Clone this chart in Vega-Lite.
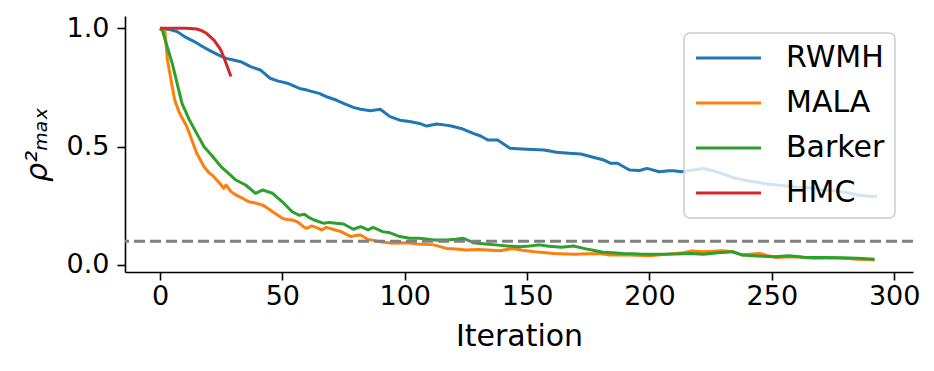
{
  "$schema": "https://vega.github.io/schema/vega-lite/v6.json",
  "width": 788,
  "height": 256,
  "autosize": {"type": "none"},
  "padding": {"left": 125, "top": 16, "right": 21, "bottom": 99},
  "background": "white",
  "config": {
    "view": {"stroke": null},
    "font": "DejaVu Sans",
    "axis": {
      "grid": false,
      "domainColor": "black",
      "domainWidth": 1.6,
      "tickColor": "black",
      "tickWidth": 1.6,
      "tickSize": 8,
      "labelFont": "DejaVu Sans",
      "labelFontSize": 27,
      "labelColor": "black",
      "titleFont": "DejaVu Sans",
      "titleFontSize": 30,
      "titleFontWeight": "normal",
      "titleColor": "black"
    }
  },
  "datasets": {
    "curves": [
      {"m":"RWMH","x":0,"y":1.0},{"m":"RWMH","x":4,"y":0.995},{"m":"RWMH","x":7,"y":0.986},{"m":"RWMH","x":10,"y":0.965},{"m":"RWMH","x":14,"y":0.944},{"m":"RWMH","x":17,"y":0.925},{"m":"RWMH","x":20,"y":0.908},{"m":"RWMH","x":24,"y":0.887},{"m":"RWMH","x":27,"y":0.873},{"m":"RWMH","x":30,"y":0.866},{"m":"RWMH","x":33,"y":0.859},{"m":"RWMH","x":37,"y":0.838},{"m":"RWMH","x":41,"y":0.824},{"m":"RWMH","x":45,"y":0.789},{"m":"RWMH","x":48,"y":0.778},{"m":"RWMH","x":52,"y":0.768},{"m":"RWMH","x":57,"y":0.746},{"m":"RWMH","x":60,"y":0.739},{"m":"RWMH","x":65,"y":0.725},{"m":"RWMH","x":68,"y":0.711},{"m":"RWMH","x":72,"y":0.697},{"m":"RWMH","x":75,"y":0.683},{"m":"RWMH","x":79,"y":0.666},{"m":"RWMH","x":82,"y":0.658},{"m":"RWMH","x":86,"y":0.652},{"m":"RWMH","x":90,"y":0.658},{"m":"RWMH","x":94,"y":0.627},{"m":"RWMH","x":98,"y":0.612},{"m":"RWMH","x":102,"y":0.606},{"m":"RWMH","x":106,"y":0.598},{"m":"RWMH","x":109,"y":0.587},{"m":"RWMH","x":113,"y":0.596},{"m":"RWMH","x":116,"y":0.592},{"m":"RWMH","x":119,"y":0.587},{"m":"RWMH","x":123,"y":0.577},{"m":"RWMH","x":128,"y":0.556},{"m":"RWMH","x":131,"y":0.545},{"m":"RWMH","x":134,"y":0.528},{"m":"RWMH","x":138,"y":0.528},{"m":"RWMH","x":143,"y":0.493},{"m":"RWMH","x":146,"y":0.491},{"m":"RWMH","x":150,"y":0.489},{"m":"RWMH","x":157,"y":0.486},{"m":"RWMH","x":162,"y":0.476},{"m":"RWMH","x":167,"y":0.472},{"m":"RWMH","x":172,"y":0.469},{"m":"RWMH","x":177,"y":0.455},{"m":"RWMH","x":181,"y":0.445},{"m":"RWMH","x":184,"y":0.43},{"m":"RWMH","x":187,"y":0.43},{"m":"RWMH","x":190,"y":0.412},{"m":"RWMH","x":192,"y":0.401},{"m":"RWMH","x":196,"y":0.399},{"m":"RWMH","x":199,"y":0.408},{"m":"RWMH","x":204,"y":0.394},{"m":"RWMH","x":208,"y":0.398},{"m":"RWMH","x":210,"y":0.398},{"m":"RWMH","x":213,"y":0.394},{"m":"RWMH","x":218,"y":0.401},{"m":"RWMH","x":222,"y":0.408},{"m":"RWMH","x":226,"y":0.398},{"m":"RWMH","x":230,"y":0.385},{"m":"RWMH","x":233,"y":0.373},{"m":"RWMH","x":236,"y":0.365},{"m":"RWMH","x":240,"y":0.356},{"m":"RWMH","x":244,"y":0.35},{"m":"RWMH","x":248,"y":0.342},{"m":"RWMH","x":252,"y":0.338},{"m":"RWMH","x":256,"y":0.334},{"m":"RWMH","x":260,"y":0.33},{"m":"RWMH","x":264,"y":0.328},{"m":"RWMH","x":268,"y":0.322},{"m":"RWMH","x":271,"y":0.317},{"m":"RWMH","x":275,"y":0.314},{"m":"RWMH","x":278,"y":0.31},{"m":"RWMH","x":282,"y":0.303},{"m":"RWMH","x":285,"y":0.296},{"m":"RWMH","x":288,"y":0.293},{"m":"RWMH","x":291,"y":0.289},{"m":"RWMH","x":293,"y":0.292},
      {"m":"MALA","x":0,"y":1.0},{"m":"MALA","x":2,"y":0.99},{"m":"MALA","x":3,"y":0.87},{"m":"MALA","x":5,"y":0.753},{"m":"MALA","x":6,"y":0.697},{"m":"MALA","x":8,"y":0.641},{"m":"MALA","x":11,"y":0.584},{"m":"MALA","x":13,"y":0.528},{"m":"MALA","x":15,"y":0.472},{"m":"MALA","x":18,"y":0.415},{"m":"MALA","x":20,"y":0.39},{"m":"MALA","x":22,"y":0.373},{"m":"MALA","x":25,"y":0.338},{"m":"MALA","x":26,"y":0.324},{"m":"MALA","x":27,"y":0.338},{"m":"MALA","x":29,"y":0.31},{"m":"MALA","x":31,"y":0.296},{"m":"MALA","x":35,"y":0.275},{"m":"MALA","x":36,"y":0.268},{"m":"MALA","x":39,"y":0.262},{"m":"MALA","x":42,"y":0.253},{"m":"MALA","x":44,"y":0.24},{"m":"MALA","x":46,"y":0.225},{"m":"MALA","x":50,"y":0.197},{"m":"MALA","x":52,"y":0.192},{"m":"MALA","x":54,"y":0.19},{"m":"MALA","x":56,"y":0.183},{"m":"MALA","x":57,"y":0.176},{"m":"MALA","x":59,"y":0.159},{"m":"MALA","x":60,"y":0.155},{"m":"MALA","x":62,"y":0.165},{"m":"MALA","x":64,"y":0.158},{"m":"MALA","x":66,"y":0.148},{"m":"MALA","x":68,"y":0.159},{"m":"MALA","x":71,"y":0.15},{"m":"MALA","x":74,"y":0.141},{"m":"MALA","x":78,"y":0.12},{"m":"MALA","x":80,"y":0.125},{"m":"MALA","x":82,"y":0.127},{"m":"MALA","x":85,"y":0.108},{"m":"MALA","x":88,"y":0.103},{"m":"MALA","x":90,"y":0.098},{"m":"MALA","x":95,"y":0.092},{"m":"MALA","x":101,"y":0.094},{"m":"MALA","x":105,"y":0.089},{"m":"MALA","x":112,"y":0.085},{"m":"MALA","x":117,"y":0.07},{"m":"MALA","x":121,"y":0.068},{"m":"MALA","x":125,"y":0.063},{"m":"MALA","x":130,"y":0.065},{"m":"MALA","x":134,"y":0.063},{"m":"MALA","x":139,"y":0.06},{"m":"MALA","x":144,"y":0.07},{"m":"MALA","x":148,"y":0.062},{"m":"MALA","x":153,"y":0.056},{"m":"MALA","x":161,"y":0.049},{"m":"MALA","x":169,"y":0.045},{"m":"MALA","x":175,"y":0.048},{"m":"MALA","x":180,"y":0.047},{"m":"MALA","x":184,"y":0.042},{"m":"MALA","x":192,"y":0.042},{"m":"MALA","x":200,"y":0.039},{"m":"MALA","x":208,"y":0.046},{"m":"MALA","x":214,"y":0.052},{"m":"MALA","x":217,"y":0.059},{"m":"MALA","x":222,"y":0.056},{"m":"MALA","x":226,"y":0.058},{"m":"MALA","x":230,"y":0.06},{"m":"MALA","x":234,"y":0.056},{"m":"MALA","x":238,"y":0.042},{"m":"MALA","x":242,"y":0.046},{"m":"MALA","x":245,"y":0.049},{"m":"MALA","x":248,"y":0.04},{"m":"MALA","x":252,"y":0.032},{"m":"MALA","x":256,"y":0.034},{"m":"MALA","x":260,"y":0.035},{"m":"MALA","x":264,"y":0.031},{"m":"MALA","x":268,"y":0.028},{"m":"MALA","x":272,"y":0.03},{"m":"MALA","x":277,"y":0.03},{"m":"MALA","x":281,"y":0.027},{"m":"MALA","x":285,"y":0.024},{"m":"MALA","x":289,"y":0.023},{"m":"MALA","x":292,"y":0.021},
      {"m":"Barker","x":0,"y":1.0},{"m":"Barker","x":1,"y":0.99},{"m":"Barker","x":3,"y":0.92},{"m":"Barker","x":5,"y":0.852},{"m":"Barker","x":7,"y":0.767},{"m":"Barker","x":9,"y":0.683},{"m":"Barker","x":12,"y":0.613},{"m":"Barker","x":15,"y":0.556},{"m":"Barker","x":18,"y":0.5},{"m":"Barker","x":21,"y":0.465},{"m":"Barker","x":25,"y":0.415},{"m":"Barker","x":28,"y":0.387},{"m":"Barker","x":31,"y":0.359},{"m":"Barker","x":35,"y":0.338},{"m":"Barker","x":39,"y":0.303},{"m":"Barker","x":42,"y":0.317},{"m":"Barker","x":44,"y":0.31},{"m":"Barker","x":46,"y":0.303},{"m":"Barker","x":50,"y":0.267},{"m":"Barker","x":54,"y":0.225},{"m":"Barker","x":57,"y":0.21},{"m":"Barker","x":59,"y":0.214},{"m":"Barker","x":61,"y":0.2},{"m":"Barker","x":63,"y":0.19},{"m":"Barker","x":67,"y":0.176},{"m":"Barker","x":69,"y":0.18},{"m":"Barker","x":72,"y":0.176},{"m":"Barker","x":75,"y":0.173},{"m":"Barker","x":79,"y":0.151},{"m":"Barker","x":82,"y":0.162},{"m":"Barker","x":85,"y":0.148},{"m":"Barker","x":87,"y":0.159},{"m":"Barker","x":91,"y":0.141},{"m":"Barker","x":94,"y":0.136},{"m":"Barker","x":98,"y":0.12},{"m":"Barker","x":102,"y":0.113},{"m":"Barker","x":106,"y":0.113},{"m":"Barker","x":112,"y":0.106},{"m":"Barker","x":117,"y":0.106},{"m":"Barker","x":121,"y":0.109},{"m":"Barker","x":124,"y":0.113},{"m":"Barker","x":128,"y":0.094},{"m":"Barker","x":133,"y":0.089},{"m":"Barker","x":137,"y":0.085},{"m":"Barker","x":142,"y":0.08},{"m":"Barker","x":147,"y":0.077},{"m":"Barker","x":151,"y":0.08},{"m":"Barker","x":155,"y":0.085},{"m":"Barker","x":159,"y":0.079},{"m":"Barker","x":164,"y":0.075},{"m":"Barker","x":169,"y":0.08},{"m":"Barker","x":174,"y":0.068},{"m":"Barker","x":177,"y":0.062},{"m":"Barker","x":181,"y":0.054},{"m":"Barker","x":185,"y":0.052},{"m":"Barker","x":189,"y":0.049},{"m":"Barker","x":196,"y":0.046},{"m":"Barker","x":203,"y":0.045},{"m":"Barker","x":211,"y":0.046},{"m":"Barker","x":217,"y":0.049},{"m":"Barker","x":222,"y":0.045},{"m":"Barker","x":228,"y":0.052},{"m":"Barker","x":234,"y":0.056},{"m":"Barker","x":238,"y":0.042},{"m":"Barker","x":244,"y":0.038},{"m":"Barker","x":251,"y":0.035},{"m":"Barker","x":257,"y":0.039},{"m":"Barker","x":264,"y":0.032},{"m":"Barker","x":271,"y":0.032},{"m":"Barker","x":278,"y":0.031},{"m":"Barker","x":285,"y":0.028},{"m":"Barker","x":292,"y":0.024},
      {"m":"HMC","x":0,"y":1.0},{"m":"HMC","x":5,"y":1.0},{"m":"HMC","x":11,"y":1.0},{"m":"HMC","x":15,"y":0.997},{"m":"HMC","x":17,"y":0.99},{"m":"HMC","x":19,"y":0.979},{"m":"HMC","x":21,"y":0.96},{"m":"HMC","x":22,"y":0.951},{"m":"HMC","x":24,"y":0.922},{"m":"HMC","x":25,"y":0.905},{"m":"HMC","x":26,"y":0.88},{"m":"HMC","x":27,"y":0.852},{"m":"HMC","x":28,"y":0.824},{"m":"HMC","x":29,"y":0.796}
    ],
    "threshold": [{"y": 0.1}]
  },
  "layer": [
    {
      "data": {"name": "curves"},
      "mark": {"type": "line", "strokeWidth": 3, "strokeCap": "butt", "strokeJoin": "round"},
      "encoding": {
        "x": {
          "field": "x", "type": "quantitative",
          "scale": {"domain": [-14.3, 307.7], "nice": false, "zero": false},
          "axis": {"values": [0, 50, 100, 150, 200, 250, 300], "title": "Iteration", "labelPadding": 3, "titlePadding": 12}
        },
        "y": {
          "field": "y", "type": "quantitative",
          "scale": {"domain": [-0.0296, 1.052], "nice": false, "zero": false},
          "axis": {"values": [0, 0.5, 1.0], "format": ".1f", "title": "ρ²ₘₐₓ", "titleFontStyle": "italic", "labelPadding": 8, "titlePadding": 14}
        },
        "color": {
          "field": "m", "type": "nominal",
          "scale": {"domain": ["RWMH", "MALA", "Barker", "HMC"], "range": ["#1f77b4", "#ff7f0e", "#2ca02c", "#d62728"]},
          "legend": {
            "title": null,
            "orient": "none",
            "legendX": 559,
            "legendY": 17,
            "fillColor": "rgba(255,255,255,0.8)",
            "strokeColor": "#cccccc",
            "cornerRadius": 6,
            "padding": 10,
            "symbolType": "M-1,0H4",
            "symbolSize": 676,
            "symbolStrokeWidth": 3,
            "labelFont": "DejaVu Sans",
            "labelFontSize": 30,
            "labelColor": "black",
            "labelOffset": 62,
            "rowPadding": 15,
            "encode": {"legend": {"update": {"strokeWidth": {"value": 1.5}}}}
          }
        }
      }
    },
    {
      "data": {"name": "threshold"},
      "mark": {"type": "rule", "color": "#808080", "strokeWidth": 3, "strokeDash": [11, 5]},
      "encoding": {
        "y": {"field": "y", "type": "quantitative"}
      }
    }
  ]
}
